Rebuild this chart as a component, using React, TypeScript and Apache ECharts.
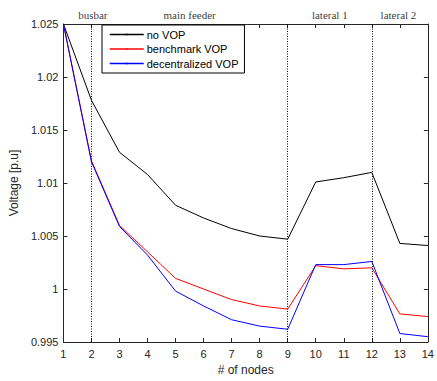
import React, { useEffect, useRef } from "react";
import * as echarts from "echarts";

const nodes = [1, 2, 3, 4, 5, 6, 7, 8, 9, 10, 11, 12, 13, 14];
const noVOP = [1.025, 1.0178, 1.0129, 1.0108, 1.0079, 1.0067, 1.0057, 1.005, 1.0047, 1.0101, 1.0105, 1.011, 1.0043, 1.0041];
const benchmarkVOP = [1.025, 1.0121, 1.006, 1.0035, 1.001, 1.0, 0.999, 0.9984, 0.9981, 1.0022, 1.0019, 1.002, 0.99765, 0.9974];
const decentralizedVOP = [1.025, 1.012, 1.0059, 1.0032, 0.9998, 0.9984, 0.9971, 0.9965, 0.9962, 1.0023, 1.0023, 1.0026, 0.9958, 0.9955];
const dividers = [2, 9, 12];
const regionLabels = ["busbar", "main feeder", "lateral 1", "lateral 2"];
const regionCenters = [2.05, 5.5, 10.5, 12.95];
const seriesNames = ["no VOP", "benchmark VOP", "decentralized VOP"];
const seriesColors = ["#000000", "#ff0000", "#0000ff"];

const sans = "'Liberation Sans', Arial, sans-serif";
const serif = "'Liberation Serif', 'Times New Roman', serif";

export default function App() {
  const ref = useRef<HTMLDivElement>(null);
  useEffect(() => {
    if (!ref.current) return;
    const chart = echarts.init(ref.current, undefined, { renderer: "svg" });
    const pair = (arr: number[]) => nodes.map((n, i) => [n, arr[i]]);
    const axisLine = { show: true, lineStyle: { color: "#262626", width: 1 } };
    const values = [noVOP, benchmarkVOP, decentralizedVOP];
    const lineSeries = seriesNames.map((name, i) => ({
      name,
      type: "line",
      data: pair(values[i]),
      symbol: "none",
      lineStyle: { color: seriesColors[i], width: 1 },
      itemStyle: { color: seriesColors[i] },
      ...(i === 0
        ? {
            markLine: {
              silent: true,
              symbol: "none",
              label: { show: false },
              lineStyle: { color: "#000", type: [1, 1.5], width: 1 },
              data: dividers.map((d) => ({ xAxis: d })),
            },
          }
        : {}),
    }));
    chart.setOption({
      animation: false,
      backgroundColor: "#fff",
      grid: { left: 62, right: 5, top: 24, bottom: 36 },
      legend: {
        data: seriesNames,
        orient: "vertical",
        left: 102,
        top: 25,
        itemWidth: 34,
        itemHeight: 2,
        itemGap: 3.5,
        padding: [4, 6, 4, 7],
        borderColor: "#000",
        borderWidth: 1,
        backgroundColor: "#fff",
        lineStyle: { width: 1.5 },
        textStyle: { fontFamily: sans, fontSize: 11, lineHeight: 10, color: "#000", padding: [0, 0, 0, -2] },
      },
      xAxis: [
        {
          type: "value",
          min: 1,
          max: 14,
          interval: 1,
          name: "# of nodes",
          nameLocation: "middle",
          nameGap: 22,
          nameTextStyle: { fontFamily: sans, fontSize: 12, color: "#262626" },
          axisLine,
          axisTick: { show: true, inside: true, length: 4, lineStyle: { color: "#262626" } },
          axisLabel: { fontFamily: sans, fontSize: 11, color: "#262626", margin: 6 },
          splitLine: { show: false },
        },
        {
          type: "value",
          position: "top",
          min: 1,
          max: 14,
          interval: 1,
          axisLine,
          axisTick: { show: true, inside: true, length: 4, lineStyle: { color: "#262626" } },
          axisLabel: { show: false },
          splitLine: { show: false },
        },
      ],
      yAxis: [
        {
          type: "value",
          min: 0.995,
          max: 1.025,
          interval: 0.005,
          name: "Voltage [p.u]",
          nameLocation: "middle",
          nameGap: 38,
          nameTextStyle: { fontFamily: sans, fontSize: 12, color: "#262626" },
          axisLine,
          axisTick: { show: true, inside: true, length: 4, lineStyle: { color: "#262626" } },
          axisLabel: {
            fontFamily: sans,
            fontSize: 11,
            color: "#262626",
            margin: 5,
            formatter: (v: number) => String(parseFloat(v.toFixed(3))),
          },
          splitLine: { show: false },
        },
        {
          type: "value",
          position: "right",
          min: 0.995,
          max: 1.025,
          interval: 0.005,
          axisLine,
          axisTick: { show: true, inside: true, length: 4, lineStyle: { color: "#262626" } },
          axisLabel: { show: false },
          splitLine: { show: false },
        },
      ],
      series: [
        ...lineSeries,
        {
          name: "regions",
          type: "scatter",
          symbolSize: 0,
          clip: false,
          silent: true,
          data: regionCenters.map((c, i) => ({ value: [c, 1.025], name: regionLabels[i] })),
          label: {
            show: true,
            position: "top",
            distance: 4,
            formatter: (p: any) => p.name,
            fontFamily: serif,
            fontSize: 11,
            color: "#000",
          },
        },
      ],
    });
    return () => chart.dispose();
  }, []);
  return <div ref={ref} style={{ position: "fixed", left: 0, top: 0, width: 437, height: 381 }} />;
}
